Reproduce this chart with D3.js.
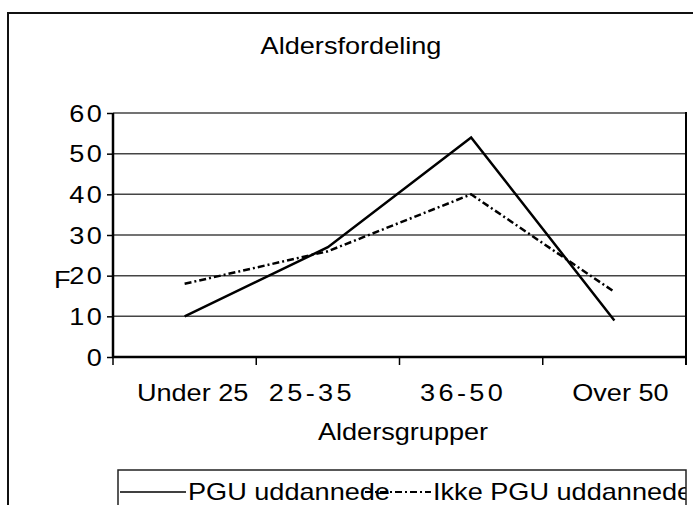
<!DOCTYPE html>
<html><head><meta charset="utf-8">
<script src="https://cdn.jsdelivr.net/npm/d3@7"></script>
<style>body{margin:0;background:#fff} svg{display:block}</style>
</head><body><svg id="c" width="693" height="505"></svg>
<script>
const categories = ["Under 25", "25-35", "36-50", "Over 50"];
const pguValues = [10, 27, 54, 9];
const ikkeValues = [18, 26, 40, 16];
const yTicks = [0, 10, 20, 30, 40, 50, 60];
const seriesNames = ["PGU uddannede", "Ikke PGU uddannede"];
const titleText = "Aldersfordeling";
const xTitle = "Aldersgrupper";
const yTitle = "F";

const svg = d3.select("#c");
const plot = {l: 113, r: 686, t: 113, b: 357};
const x = d3.scaleBand().domain(categories).range([plot.l, plot.r]);
const y = d3.scaleLinear().domain([0, 60]).range([plot.b, plot.t]);
const SX = 1.13;
const FS = 24;
const font = "'Liberation Sans', Arial, sans-serif";
function txt(g, s, px, py, size, anchor, ls) {
  return g.append("text")
    .attr("transform", `translate(${px},${py}) scale(${SX},1)`)
    .attr("text-anchor", anchor)
    .attr("font-family", font)
    .attr("font-size", size)
    .attr("letter-spacing", ls || 0)
    .attr("fill", "#000")
    .text(s);
}

// outer frame
svg.append("path").attr("d", "M8,505 L8,13 L693,13").attr("fill", "none")
  .attr("stroke", "#111").attr("stroke-width", 2);

// title
txt(svg, titleText, 351, 54, FS, "middle");

// gridlines
svg.append("g").selectAll("line").data(yTicks.filter(d => d > 0)).join("line")
  .attr("x1", plot.l).attr("x2", plot.r)
  .attr("y1", d => y(d)).attr("y2", d => y(d))
  .attr("stroke", "#444").attr("stroke-width", 1.5);

// y axis
const ya = svg.append("g").attr("transform", `translate(${plot.l},0)`)
  .call(d3.axisLeft(y).tickValues(yTicks).tickSize(6).tickFormat(""));
ya.select(".domain").remove();
ya.selectAll(".tick line").attr("stroke", "#000").attr("stroke-width", 1.5);
svg.append("line").attr("x1", plot.l).attr("x2", plot.l).attr("y1", plot.t).attr("y2", plot.b + 1)
  .attr("stroke", "#000").attr("stroke-width", 2.5);
yTicks.forEach(v => {
  txt(svg, String(v), 104, y(v) + 8.5, FS, "end", 2);
});
txt(svg, yTitle, 54, 288, FS, "start");

// x axis
const xa = svg.append("g").attr("transform", `translate(0,${plot.b})`);
const bounds = categories.map(c => x(c)).concat([plot.r]);
xa.selectAll("line").data(bounds).join("line")
  .attr("x1", d => d).attr("x2", d => d).attr("y1", 0).attr("y2", 8)
  .attr("stroke", "#000").attr("stroke-width", 1.5);
svg.append("line").attr("x1", plot.l - 1).attr("x2", plot.r).attr("y1", plot.b).attr("y2", plot.b)
  .attr("stroke", "#000").attr("stroke-width", 2.5);
svg.append("line").attr("x1", plot.r).attr("x2", plot.r).attr("y1", plot.t - 1).attr("y2", plot.b + 8)
  .attr("stroke", "#000").attr("stroke-width", 2);
const xLabelShift = [8, -16, -8, 6];
categories.forEach((c, i) => {
  const ls = /^\d/.test(c) ? 3 : 0;
  txt(svg, c, x(c) + x.bandwidth() / 2 + xLabelShift[i], 401, FS, "middle", ls);
});
txt(svg, xTitle, 403, 440, FS, "middle");

// series
const line = d3.line().x((d, i) => x(categories[i]) + x.bandwidth() / 2).y(d => y(d));
svg.append("path").datum(ikkeValues).attr("d", line).attr("fill", "none")
  .attr("stroke", "#000").attr("stroke-width", 2.5).attr("stroke-dasharray", "7,3,2,3");
svg.append("path").datum(pguValues).attr("d", line).attr("fill", "none")
  .attr("stroke", "#000").attr("stroke-width", 2.5);

// legend
const lg = {x: 118, y: 470, w: 568, h: 50};
svg.append("clipPath").attr("id", "lgclip").append("rect")
  .attr("x", lg.x).attr("y", lg.y).attr("width", lg.w).attr("height", lg.h);
const lgG = svg.append("g").attr("clip-path", "url(#lgclip)");
svg.append("rect").attr("x", lg.x).attr("y", lg.y).attr("width", lg.w).attr("height", lg.h)
  .attr("fill", "none").attr("stroke", "#222").attr("stroke-width", 1.5);
const dashes = [null, "7,3,2,3"];
seriesNames.forEach((name, i) => {
  const cx = lg.x + 2 + i * 245;
  lgG.append("line").attr("x1", cx).attr("x2", cx + 66).attr("y1", 492).attr("y2", 492)
    .attr("stroke", "#000").attr("stroke-width", i === 0 ? 1.5 : 2)
    .attr("stroke-dasharray", dashes[i]);
  txt(lgG, name, cx + 68, 500, 24, "start");
});
</script></body></html>
